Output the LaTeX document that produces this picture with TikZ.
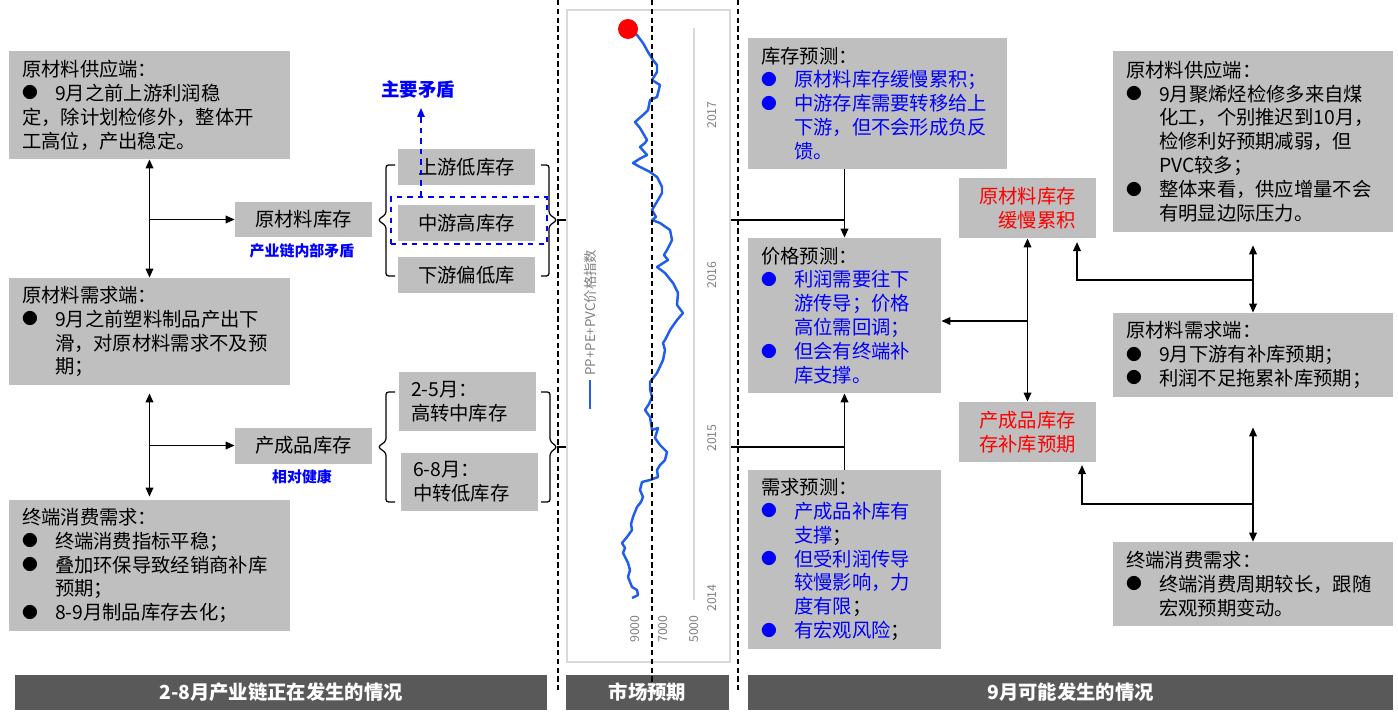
\documentclass[tikz,border=0pt]{standalone}
\usepackage{fontspec}
\setmainfont{Noto Sans CJK SC}
\usetikzlibrary{arrows.meta}

\definecolor{boxgray}{RGB}{191,191,191}
\definecolor{bandgray}{RGB}{89,89,89}
\definecolor{framegray}{RGB}{217,217,217}
\definecolor{ticktext}{RGB}{128,128,128}
\definecolor{priceblue}{RGB}{31,94,235}

\newcommand{\bodyfont}{\fontsize{11pt}{13.6pt}\selectfont}
\newcommand{\dotitem}{\makebox[0.66cm][l]{\raisebox{0.08em}{\fontsize{9pt}{9pt}\selectfont ●}}}
\newcommand{\subline}{\hspace*{0.66cm}}

\begin{document}
\begin{tikzpicture}[
            x=0.02cm, y=-0.02cm,
            >={Triangle[length=1.8mm,width=1.5mm]}, % 箭头样式
            infobox/.style={fill=boxgray, inner xsep=0.26cm, inner ysep=0pt, align=left, font=\bodyfont},
            tagbox/.style={fill=boxgray, minimum width=2.74cm, minimum height=0.72cm, inner sep=0pt, font=\bodyfont},
            redbox/.style={fill=boxgray, text=red, minimum width=2.74cm, minimum height=1.2cm, inner sep=0pt, align=right, font=\bodyfont},
            band/.style={fill=bandgray, text=white, minimum height=0.7cm, inner sep=0pt, font=\bodyfont\bfseries},
            note/.style={text=blue, inner sep=0pt, font=\fontsize{8.5pt}{10pt}\selectfont\bfseries},
            link/.style={line width=1pt},
            sep/.style={line width=0.6pt, dash pattern=on 3pt off 2pt},
            axislabel/.style={text=ticktext, inner sep=0pt, rotate=90, font=\fontsize{7pt}{8pt}\selectfont}
        ]
        \useasboundingbox (0,0) rectangle (1398,713);

        % 左侧：供需两端
        \node[infobox, text width=5.10cm, minimum height=2.16cm] (supL) at (149.5,105) {原材料供应端：\\\dotitem 9月之前上游利润稳\\定，除计划检修外，整体开\\工高位，产出稳定。};
        \node[infobox, text width=5.10cm, minimum height=2.14cm] (demL) at (149.5,331.5) {原材料需求端：\\\dotitem 9月之前塑料制品产出下\\\subline 滑，对原材料需求不及预\\\subline 期；};
        \node[infobox, text width=5.10cm, minimum height=2.62cm] (endL) at (149.5,565.5) {终端消费需求：\\\dotitem 终端消费指标平稳；\\\dotitem 叠加环保导致经销商补库\\\subline 预期；\\\dotitem 8-9月制品库存去化；};

        % 库存节点
        \node[tagbox] (rawL) at (303.5,219.5) {原材料库存};
        \node[note] (rawNote) at (302,251) {产业链内部矛盾};
        \node[tagbox] (finL) at (303.5,445.5) {产成品库存};
        \node[note] (finNote) at (302,477) {相对健康};

        \draw[link, <->] (supL.south) -- (demL.north);
        \draw[link, ->] (supL.south |- rawL.west) -- (rawL.west);
        \draw[link, <->, shorten <=0.16cm, shorten >=0.06cm] (demL.south) -- (endL.north);
        \draw[link, ->] (demL.south |- finL.west) -- (finL.west);

        % 库存结构
        \node[tagbox] (upS) at (466.5,167) {上游低库存};
        \node[tagbox] (midS) at (466.5,223) {中游高库存};
        \node[tagbox] (lowS) at (466.5,275) {下游偏低库};
        \node[draw=blue, dashed, line width=0.8pt, minimum width=3.12cm, minimum height=0.94cm, inner sep=0pt] (focus) at (469,220.5) {};
        \node[note, font=\fontsize{10.5pt}{12pt}\selectfont\bfseries] (mainNote) at (418,89) {主要矛盾};
        \coordinate (mainFoot) at (421,108);
        \draw[blue, dashed, line width=0.8pt, ->] (mainFoot |- focus.north) -- (mainFoot);

        \node[tagbox, minimum height=1.18cm, text width=2.26cm, inner xsep=0.24cm, align=left] (p25) at (467.5,401.5) {2-5月：\\高转中库存};
        \node[tagbox, minimum height=1.16cm, text width=2.26cm, inner xsep=0.24cm, align=left] (p68) at (469.5,482) {6-8月：\\中转低库存};

        % 括号
        \draw[line width=0.7pt, rounded corners=1.5pt] (395,165) -- (386,165) -- (386,214) -- (378,220) -- (386,226) -- (386,276) -- (395,276);
        \draw[line width=0.7pt, rounded corners=1.5pt] (541,165) -- (549,165) -- (549,214) -- (557,220) -- (549,226) -- (549,276) -- (541,276);
        \draw[line width=0.7pt, rounded corners=1.5pt] (395,392) -- (386,392) -- (386,441) -- (378,447) -- (386,453) -- (386,502) -- (395,502);
        \draw[line width=0.7pt, rounded corners=1.5pt] (541,392) -- (550,392) -- (550,441) -- (557,447) -- (550,453) -- (550,502) -- (541,502);
        \coordinate (upTip) at (557,220);
        \coordinate (lowTip) at (557,447);

        % 中间：价格指数
        \node[draw=framegray, line width=1.2pt, minimum width=3.26cm, minimum height=13.04cm, inner sep=0pt] (chart) at (648.5,336) {};
        \draw[framegray, line width=1pt] (694,28) -- (694,600);
        \node[axislabel] (y17) at (712,115) {2017};
        \node[axislabel] (y16) at (712,275) {2016};
        \node[axislabel] (y15) at (712,438) {2015};
        \node[axislabel] (y14) at (712,598) {2014};
        \node[axislabel] (v9) at (635,629) {9000};
        \node[axislabel] (v7) at (663,629) {7000};
        \node[axislabel] (v5) at (694,629) {5000};
        \draw[priceblue, line width=1.2pt] (590,380) -- (590,409);
        \node[axislabel, anchor=west, font=\fontsize{7.6pt}{8pt}\selectfont] (legend) at (590,376) {PP+PE+PVC价格指数};
        \draw[priceblue, line width=1.4pt, line join=round] plot coordinates {
            (632,598) (638,595) (637,590) (632,587) (628,577) (630,570) (628,563) (623,553) (625,548)
            (622,543) (627,537) (632,530) (631,524) (633,517) (637,507) (641,502) (643,497) (640,490)
            (642,482) (650,480) (658,477) (657,470) (660,465) (665,460) (667,452) (660,445) (655,438)
            (658,428) (652,430) (650,417) (645,410) (649,404) (652,397) (650,389) (650,382) (657,373)
            (663,360) (665,350) (663,343) (665,340) (670,330) (677,320) (683,313) (677,305) (678,293)
            (673,283) (665,273) (657,267) (668,260) (664,255) (667,250) (672,240) (670,230) (660,223)
            (652,220) (656,217) (652,210) (658,200) (662,193) (662,187) (657,177) (650,172) (640,167)
            (633,163) (641,158) (647,155) (640,147) (645,143) (647,140) (640,128) (635,122) (643,115)
            (648,110) (650,100) (657,97) (660,85) (652,80) (657,72) (657,65) (653,60) (648,52)
            (643,43) (637,35) (628,29)
        };
        \node[circle, fill=red, minimum size=0.4cm, inner sep=0pt] (lastDot) at (628,29) {};

        % 右侧：9月预测
        \node[infobox, text width=4.66cm, minimum height=2.62cm] (invR) at (877.5,103.5) {库存预测：\\\textcolor{blue}{\dotitem 原材料库存缓慢累积；}\\\textcolor{blue}{\dotitem 中游存库需要转移给上}\\\textcolor{blue}{\subline 下游，但不会形成负反}\\\textcolor{blue}{\subline 馈。}};
        \node[infobox, text width=3.34cm, minimum height=3.10cm] (priceR) at (844.5,315.5) {价格预测：\\\textcolor{blue}{\dotitem 利润需要往下}\\\textcolor{blue}{\subline 游传导；价格}\\\textcolor{blue}{\subline 高位需回调；}\\\textcolor{blue}{\dotitem 但会有终端补}\\\textcolor{blue}{\subline 库支撑。}};
        \node[infobox, text width=3.34cm, minimum height=3.58cm] (needR) at (844.5,559.5) {需求预测：\\\textcolor{blue}{\dotitem 产成品补库有}\\\textcolor{blue}{\subline 支撑}；\\\textcolor{blue}{\dotitem 但受利润传导}\\\textcolor{blue}{\subline 较慢影响，力}\\\textcolor{blue}{\subline 度有限}；\\\textcolor{blue}{\dotitem 有宏观风险}；};

        \node[redbox] (rawR) at (1027.5,208) {原材料库存\\缓慢累积};
        \node[redbox] (finR) at (1027.5,432) {产成品库存\\存补库预期};

        \node[infobox, text width=5.08cm, minimum height=3.62cm] (supR) at (1253,141.5) {原材料供应端：\\\dotitem 9月聚烯烃检修多来自煤\\\subline 化工，个别推迟到10月，\\\subline 检修利好预期减弱，但\\\subline PVC较多；\\\dotitem 整体来看，供应增量不会\\\subline 有明显边际压力。};
        \node[infobox, text width=5.08cm, minimum height=1.68cm] (demR) at (1253,355) {原材料需求端：\\\dotitem 9月下游有补库预期；\\\dotitem 利润不足拖累补库预期；};
        \node[infobox, text width=5.08cm, minimum height=1.68cm] (endR) at (1253,584) {终端消费需求：\\\dotitem 终端消费周期较长，跟随\\\subline 宏观预期变动。};

        % 连线
        \draw[link] (upTip) -- (upTip -| chart.west);
        \draw[link] (upTip -| chart.east) -- (upTip -| priceR.north);
        \draw[link, ->] (invR.south -| priceR.north) -- (priceR.north);
        \draw[link] (lowTip) -- (lowTip -| chart.west);
        \draw[link] (lowTip -| chart.east) -- (lowTip -| priceR.south);
        \draw[link, ->] (needR.north) -- (priceR.south);

        \draw[link, <->] (rawR.south) -- (finR.north);
        \coordinate (priceJoin) at (1027.5,321);
        \draw[link, ->] (priceJoin) -- (priceJoin -| priceR.east);

        \coordinate (supJoin) at (1253,280);
        \coordinate (rawFoot) at (1077,242);
        \draw[link, <->, shorten <=0.26cm] (supR.south) -- (demR.north);
        \draw[link, ->] (supJoin) -| (rawFoot);
        \coordinate (endJoin) at (1253,504);
        \coordinate (finFoot) at (1082,465);
        \draw[link, <->, shorten <=0.6cm] (demR.south) -- (endR.north);
        \draw[link, ->] (endJoin) -| (finFoot);

        % 底部标题
        \node[band, minimum width=10.64cm] (bandL) at (281,692.5) {2-8月产业链正在发生的情况};
        \node[band, minimum width=3.26cm] (bandM) at (647.5,692.5) {市场预期};
        \node[band, minimum width=12.9cm] (bandR) at (1070.5,692.5) {9月可能发生的情况};

        % 分隔虚线
        \draw[sep] (558,0) -- (558,693);
        \draw[sep] (652,0) -- (652,685);
        \draw[sep] (738,0) -- (738,693);
    \end{tikzpicture}
\end{document}
